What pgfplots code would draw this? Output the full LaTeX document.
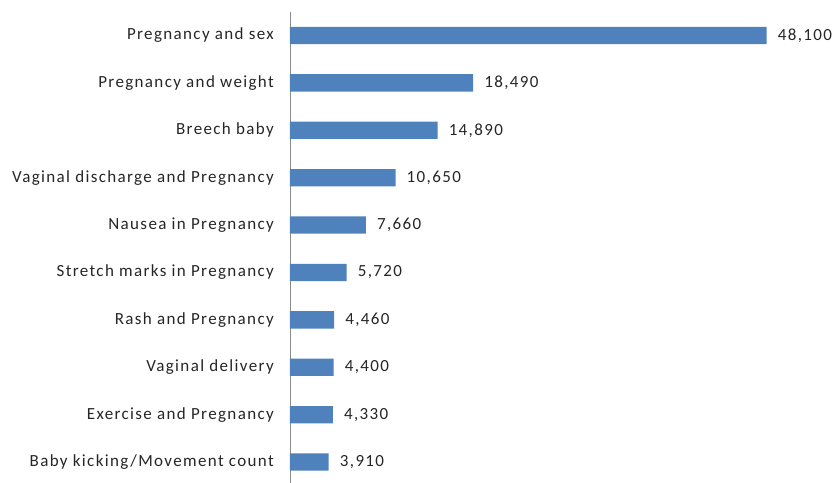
\documentclass[border=0pt]{standalone}
\usepackage{fontspec}
\setmainfont{Carlito}[LetterSpace=8]
\usepackage{pgfplots}
\pgfplotsset{compat=1.18}
\definecolor{barblue}{HTML}{4F81BD}
\definecolor{txt}{HTML}{262626}
\definecolor{axgray}{HTML}{8C8C8C}
\begin{document}
\begin{tikzpicture}
\begin{axis}[
  xbar, bar width=17.3pt,
  scale only axis, width=476.7pt, height=474pt,
  xmin=0, xmax=48100, ymin=0.5, ymax=10.5,
  axis x line=none, axis y line*=left,
  y axis line style={draw=axgray, line width=0.8pt},
  ytick={1,...,10}, major tick length=0pt, ytick style={draw=none},
  yticklabels={Baby kicking/Movement count, Exercise and Pregnancy, Vaginal delivery,
    Rash and Pregnancy, Stretch marks in Pregnancy, Nausea in Pregnancy,
    Vaginal discharge and Pregnancy, Breech baby, Pregnancy and weight, Pregnancy and sex},
  yticklabel style={font=\fontsize{17}{20}\selectfont, text=txt, anchor=east, inner sep=0pt, xshift=-16pt},
  nodes near coords={\pgfmathprintnumber[fixed, precision=0, 1000 sep={,}, assume math mode=true]{\pgfplotspointmeta}},
  nodes near coords style={font=\fontsize{17}{20}\selectfont, text=txt, anchor=west, inner sep=0pt, xshift=11pt},
  clip=false,
]
\addplot[fill=barblue, draw=none] coordinates {
  (3910,1) (4330,2) (4400,3) (4460,4) (5720,5)
  (7660,6) (10650,7) (14890,8) (18490,9) (48100,10)
};
\end{axis}
\pgfresetboundingbox
\path[use as bounding box] ([xshift=-290pt, yshift=2.8pt]current axis.south west) rectangle ([xshift=70.3pt, yshift=11.8pt]current axis.north east);
\end{tikzpicture}
\end{document}
